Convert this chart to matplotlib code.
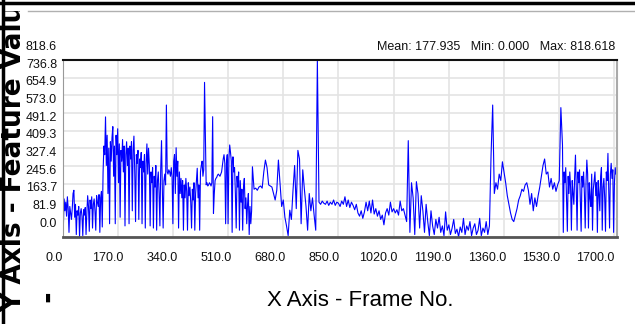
import numpy as np
import matplotlib
matplotlib.use("Agg")
import matplotlib.pyplot as plt
from matplotlib import transforms
from matplotlib.lines import Line2D
from matplotlib.transforms import Bbox

# feature value per frame.
# busy stretches are read every 2.5 frames, calm stretches every 5 frames

# frames 0 - 122.5 (step 2.5)
seg_a = [150, 40, 175, 120, 160, 95, 185, 130, 20, 140,
         110, 80, 130, 200, 215, 90, 150, 10, 120, 100,
         140, 0, 110, 130, 95, 5, 125, 100, 135, 10,
         110, 190, 140, 25, 170, 130, 185, 40, 150, 175,
         120, 30, 190, 160, 140, 195, 20, 180, 210, 45]
# frames 125 - 317.5 (step 2.5)
seg_b = [300, 420, 380, 555, 330, 470, 200, 410, 60, 440,
         350, 460, 510, 280, 420, 60, 470, 380, 500, 250,
         430, 90, 400, 350, 450, 300, 420, 50, 380, 440,
         330, 410, 60, 420, 360, 440, 120, 400, 466, 300,
         70, 380, 340, 400, 80, 360, 320, 390, 60, 350,
         300, 380, 40, 340, 430, 290, 410, 330, 50, 300,
         250, 320, 40, 280, 230, 330, 30, 260, 300, 200,
         50, 310, 445, 220, 40, 260, 290, 240]
# frames 320 - 502.5 (step 2.5)
seg_c = [610, 300, 290, 310, 300, 280, 320, 278, 60, 350,
         380, 200, 412, 280, 350, 40, 300, 200, 270, 180,
         260, 30, 240, 180, 270, 210, 30, 250, 190, 230,
         160, 40, 220, 170, 250, 30, 200, 260, 317, 180,
         240, 30, 300, 330, 350, 280, 310, 715, 479, 240,
         250, 235, 240, 250, 245, 235, 250, 556, 108, 200,
         260, 270, 275, 285, 290, 285, 280, 290, 300, 330,
         360, 380, 340, 60]
# frames 505 - 582.5 (step 2.5)
seg_d = [340, 380, 60, 360, 425, 390, 350, 20, 370, 300,
         320, 200, 40, 280, 230, 300, 30, 260, 160, 220,
         30, 230, 270, 130, 180, 60, 150, 200, 10, 140,
         60, 120]
# frames 585 - 785 (step 5)
seg_e = [324, 220, 225, 215, 230, 235, 225, 300, 355, 320,
         240, 235, 230, 200, 170, 215, 355, 250, 140, 170,
         90, 50, 5, 123, 80, 215, 330, 130, 400, 360,
         60, 310, 220, 140, 30, 200, 120, 180, 100, 30,
         818.618]
# frames 790 - 1060 (step 5)
seg_f = [160, 150, 165, 155, 150, 165, 145, 160, 150, 170,
         145, 160, 155, 140, 165, 150, 185, 140, 170, 135,
         160, 145, 125, 150, 110, 95, 120, 85, 115, 160,
         120, 165, 110, 170, 105, 130, 95, 120, 80, 100,
         55, 110, 130, 100, 160, 115, 130, 110, 125, 100,
         165, 120, 130, 100, 70]
# frames 1065 - 1315 (step 5)
seg_g = [445, 20, 250, 180, 10, 255, 200, 40, 190, 120,
         20, 150, 70, 5, 120, 50, 10, 80, 40, 90,
         20, 50, 5, 115, 30, 55, 10, 40, 80, 15,
         35, 0, 45, 20, 85, 10, 50, 30, 70, 5,
         40, 60, 10, 30, 85, 5, 40, 20, 70, 10,
         50]
# frames 1320 - 1535 (step 5)
seg_h = [378, 610, 200, 250, 220, 290, 260, 347, 300, 250,
         190, 150, 110, 80, 70, 100, 130, 170, 190, 220,
         210, 240, 250, 215, 150, 200, 120, 180, 140, 190,
         230, 280, 330, 360, 290, 300, 230, 270, 220, 250,
         210, 240, 260, 598]
# frames 1540 - 1705 (step 2.5)
seg_i = [425, 20, 300, 250, 320, 180, 25, 280, 200, 300,
         230, 30, 260, 200, 150, 280, 378, 220, 30, 300,
         250, 310, 170, 25, 280, 230, 300, 200, 40, 250,
         355, 290, 40, 250, 180, 140, 290, 30, 220, 260,
         300, 190, 250, 20, 260, 200, 120, 280, 320, 30,
         230, 270, 180, 25, 300, 260, 386, 220, 40, 290,
         340, 270, 310, 20, 250, 320, 290]

segments = [(0, 2.5, seg_a), (125, 2.5, seg_b), (320, 2.5, seg_c),
            (505, 2.5, seg_d), (585, 5, seg_e), (790, 5, seg_f),
            (1065, 5, seg_g), (1320, 5, seg_h), (1540, 2.5, seg_i)]
frames = np.concatenate([start + np.arange(len(seg)) * step for start, step, seg in segments])
values = np.concatenate([np.array(seg, dtype=float) for _, _, seg in segments])

y_ticks = [0.0, 81.9, 163.7, 245.6, 327.4, 409.3, 491.2, 573.0, 654.9, 736.8, 818.6]
x_ticks = [0, 170, 340, 510, 680, 850, 1020, 1190, 1360, 1530, 1700]
stats_text = "Mean: 177.935   Min: 0.000   Max: 818.618"

sans = ['Liberation Sans', 'DejaVu Sans']

W, H = 635, 324
fig = plt.figure(figsize=(W / 100, H / 100), dpi=100)
fig.patch.set_facecolor('white')
ax = fig.add_axes([62.5 / W, 1 - 236.7 / H, (616.7 - 62.5) / W, (236.7 - 60) / H])

ax.plot(frames, values, color='#0000ff', lw=0.8)
ax.set_xlim(0, 1707)
ax.set_ylim(0, 818.6)

ax.set_xticks(x_ticks)
ax.set_yticks(y_ticks)
ax.set_xticklabels([])
ax.set_yticklabels([])
ax.tick_params(length=0)
ax.set_axisbelow(True)
ax.grid(True, color='#e4e4e4', lw=1.2)

ax.spines['top'].set_color('#111111')
ax.spines['top'].set_linewidth(1.5)
ax.spines['bottom'].set_color('#555555')
ax.spines['bottom'].set_linewidth(2)
ax.spines['left'].set_color('#999999')
ax.spines['right'].set_color('#aaaaaa')
ax.spines['right'].set_linewidth(1.5)

# tick labels sit a bit off their gridlines in the original
xtrans = transforms.blended_transform_factory(ax.transData, ax.transAxes)
for v in x_ticks:
    dx = -(8.5 + 11 * v / 1700) / 100
    off = transforms.ScaledTranslation(dx, -21 / 100, fig.dpi_scale_trans)
    ax.text(v, 0, f"{v:.1f}", transform=xtrans + off, ha='center', va='center',
            fontsize=9, family=sans, color='#111111')

ytrans = transforms.blended_transform_factory(ax.transAxes, ax.transData)
for v in y_ticks:
    off = transforms.ScaledTranslation(-5.5 / 100, 13 / 100, fig.dpi_scale_trans)
    ax.text(0, v, f"{v:.1f}", transform=ytrans + off, ha='right', va='center',
            fontsize=9, family=sans, color='#111111')

fig.text(615 / W, 1 - 47 / H, stats_text, ha='right', va='center',
         fontsize=9, family=sans, color='#111111')
fig.text(360 / W, 1 - 300 / H, "X Axis - Frame No.", ha='center', va='center',
         fontsize=16, family=sans, color='black')

ylab = fig.text(14 / W, 1 - 312 / H, "Y Axis - Feature Value", rotation=90,
                ha='center', va='bottom', fontsize=19, fontweight='bold',
                family='DejaVu Sans', color='black')
ylab.set_clip_box(Bbox.from_extents(0, 0, W, H - 11))

fig.text(48 / W, 1 - 298 / H, "\u25ae", ha='center', va='center',
         fontsize=8, family='DejaVu Sans', color='black')

# window frame bits
fig.add_artist(Line2D([0, 1], [1 - 3 / H] * 2, color='black', lw=2.5,
                      transform=fig.transFigure))
fig.add_artist(Line2D([3 / W] * 2, [0, 1], color='black', lw=2.5,
                      transform=fig.transFigure))
fig.add_artist(Line2D([28 / W, 1], [1 - 11 / H] * 2, color='#b0b0b0', lw=1,
                      transform=fig.transFigure))

fig.savefig('out.png', dpi=100, facecolor='white')
